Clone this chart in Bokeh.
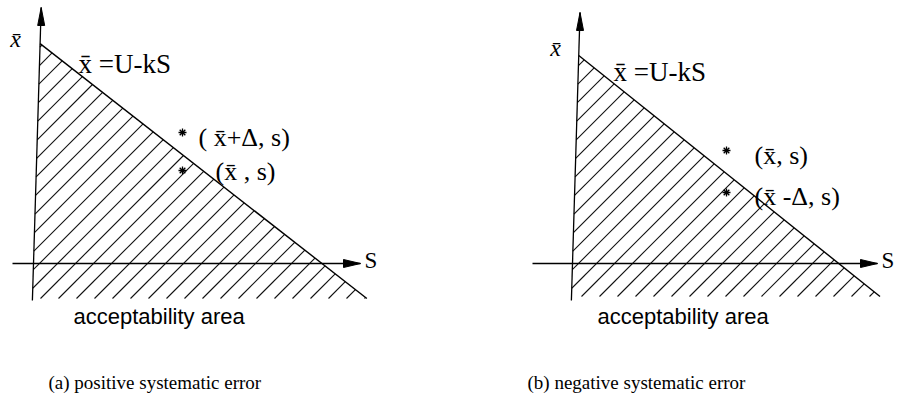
import numpy as np
from bokeh.plotting import figure
from bokeh.layouts import row
from bokeh.models import Range1d
from bokeh.core.properties import value
from bokeh.embed import file_html
from bokeh.resources import INLINE

# ---- diagram values (S along the horizontal axis, x-bar along the vertical) ----
panel_keys = ["a", "b"]
U_vals = [2.25, 2.13]          # intercept of the limit line  x̄ = U - kS
k_vals = [0.78, 0.80]          # slope factor k
s_point = [1.49, 1.54]         # standard deviation s of the sample
xbar_point = [0.93, 1.13]      # observed mean x̄
delta_vals = [0.38, 0.42]      # systematic error Δ
delta_sign = [1, -1]           # positive / negative systematic error

shifted_labels = ["( x̄+Δ, s)", "(x̄ -Δ, s)"]
plain_labels = ["(x̄ , s)", "(x̄, s)"]
captions = ["(a) positive systematic error", "(b) negative systematic error"]
line_label = "x̄ =U-kS"
area_label = "acceptability area"
y_axis_label = "x̄"
x_axis_label = "S"

# ---- layout / style ----
PX = 100.0                      # pixels per diagram unit
H = 407
ORIGIN_Y = 263                  # pixel row of the S axis
panel_w = [448, 449]
origin_x = [33, 124]            # pixel column of the x̄ axis inside each panel
lean = 0.03                     # slight tilt of the hand-drawn vertical axis
hatch_bottom = [-0.35, -0.33]
axis_bottom = -0.37
y_tip = [2.56, 2.51]
x_axis_left = [-0.21, -0.40]
x_tip = [3.27, 3.05]
hatch_step = 0.18

serif = value("Liberation Serif")
sans = value("Liberation Sans")

shifted_off = [(16, 5), (28, 4)]
plain_off = [(33, 1), (28, 5)]
eq_pos = [(0.45, 2.00), (0.41, 1.92)]
ylab_pos = [(-0.18, 2.25), (-0.17, 2.16)]
area_pos = [(0.40, -0.53), (0.25, -0.53)]
cap_pos = [(0.15, -1.19), (-0.45, -1.19)]


def make_panel(i):
    U, k = U_vals[i], k_vals[i]
    w = panel_w[i]
    ox = origin_x[i]
    p = figure(width=w, height=H, output_backend="svg", toolbar_location=None,
               x_range=Range1d(-ox / PX, (w - ox) / PX),
               y_range=Range1d((ORIGIN_Y - H) / PX, ORIGIN_Y / PX),
               x_axis_location=None, y_axis_location=None, min_border=0)
    p.grid.visible = False
    p.outline_line_color = None
    p.background_fill_color = "white"
    p.border_fill_color = "white"

    bot = hatch_bottom[i]
    # hatching: 45° lines x̄ = S + c clipped to the acceptability region
    xs0, ys0, xs1, ys1 = [], [], [], []
    for c in np.arange(-6.0, 4.0, hatch_step):
        s0 = max(bot - c, lean * c / (1 - lean))
        s1 = (U - c) / (1 + k)
        if s1 - s0 > 0.01:
            xs0.append(s0); ys0.append(s0 + c)
            xs1.append(s1); ys1.append(s1 + c)
    p.segment(xs0, ys0, xs1, ys1, line_color="#111111", line_width=1.1)

    # limit line x̄ = U - kS, from the vertical axis down to the hatch bottom
    top_y = U / (1 + k * lean)
    s_top = lean * top_y
    s_end = (U - bot) / k
    p.line([s_top, s_end], [U - k * s_top, U - k * s_end], line_color="black", line_width=1.4)

    # vertical (x̄) axis with arrow
    p.line([lean * axis_bottom, lean * y_tip[i]], [axis_bottom, y_tip[i]],
           line_color="black", line_width=1.3)
    tip_s = lean * y_tip[i]
    p.patch([tip_s, tip_s - 0.035, tip_s + 0.035],
            [y_tip[i], y_tip[i] - 0.18, y_tip[i] - 0.18], color="black")

    # horizontal (S) axis with arrow
    p.line([x_axis_left[i], x_tip[i]], [0, 0], line_color="black", line_width=1.3)
    p.patch([x_tip[i], x_tip[i] - 0.17, x_tip[i] - 0.17], [0, 0.04, -0.04], color="black")

    # sample points
    shifted = xbar_point[i] + delta_sign[i] * delta_vals[i]
    pts = [shifted, xbar_point[i]] if delta_sign[i] > 0 else [xbar_point[i], shifted]
    p.scatter([s_point[i]] * 2, pts, marker="asterisk", size=8,
              line_color="black", line_width=1.3)
    lab_hi = shifted_labels[i] if delta_sign[i] > 0 else plain_labels[i]
    lab_lo = plain_labels[i] if delta_sign[i] > 0 else shifted_labels[i]
    off_hi = shifted_off[i] if delta_sign[i] > 0 else plain_off[i]
    off_lo = plain_off[i] if delta_sign[i] > 0 else shifted_off[i]
    p.text([s_point[i]], [pts[0]], text=[lab_hi], x_offset=off_hi[0], y_offset=off_hi[1],
           text_font=serif, text_font_size="26px", text_align="left", text_baseline="middle")
    p.text([s_point[i]], [pts[1]], text=[lab_lo], x_offset=off_lo[0], y_offset=off_lo[1],
           text_font=serif, text_font_size="26px", text_align="left", text_baseline="middle")

    # texts
    p.text([eq_pos[i][0]], [eq_pos[i][1]], text=[line_label], text_font=serif,
           text_font_size="27px", text_align="left", text_baseline="middle")
    p.text([ylab_pos[i][0]], [ylab_pos[i][1]], text=[y_axis_label], text_font=serif,
           text_font_style="italic", text_font_size="24px", text_align="center",
           text_baseline="middle")
    p.text([x_tip[i] + 0.04], [0.03], text=[x_axis_label], text_font=serif,
           text_font_size="23px", text_align="left", text_baseline="middle")
    p.text([area_pos[i][0]], [area_pos[i][1]], text=[area_label], text_font=sans,
           text_font_size="22px", text_align="left", text_baseline="alphabetic")
    p.text([cap_pos[i][0]], [cap_pos[i][1]], text=[captions[i]], text_font=serif,
           text_font_size="19px", text_align="left", text_baseline="alphabetic")
    return p


layout = row(make_panel(0), make_panel(1), spacing=0)
open("out.html", "w").write(file_html(layout, INLINE))
